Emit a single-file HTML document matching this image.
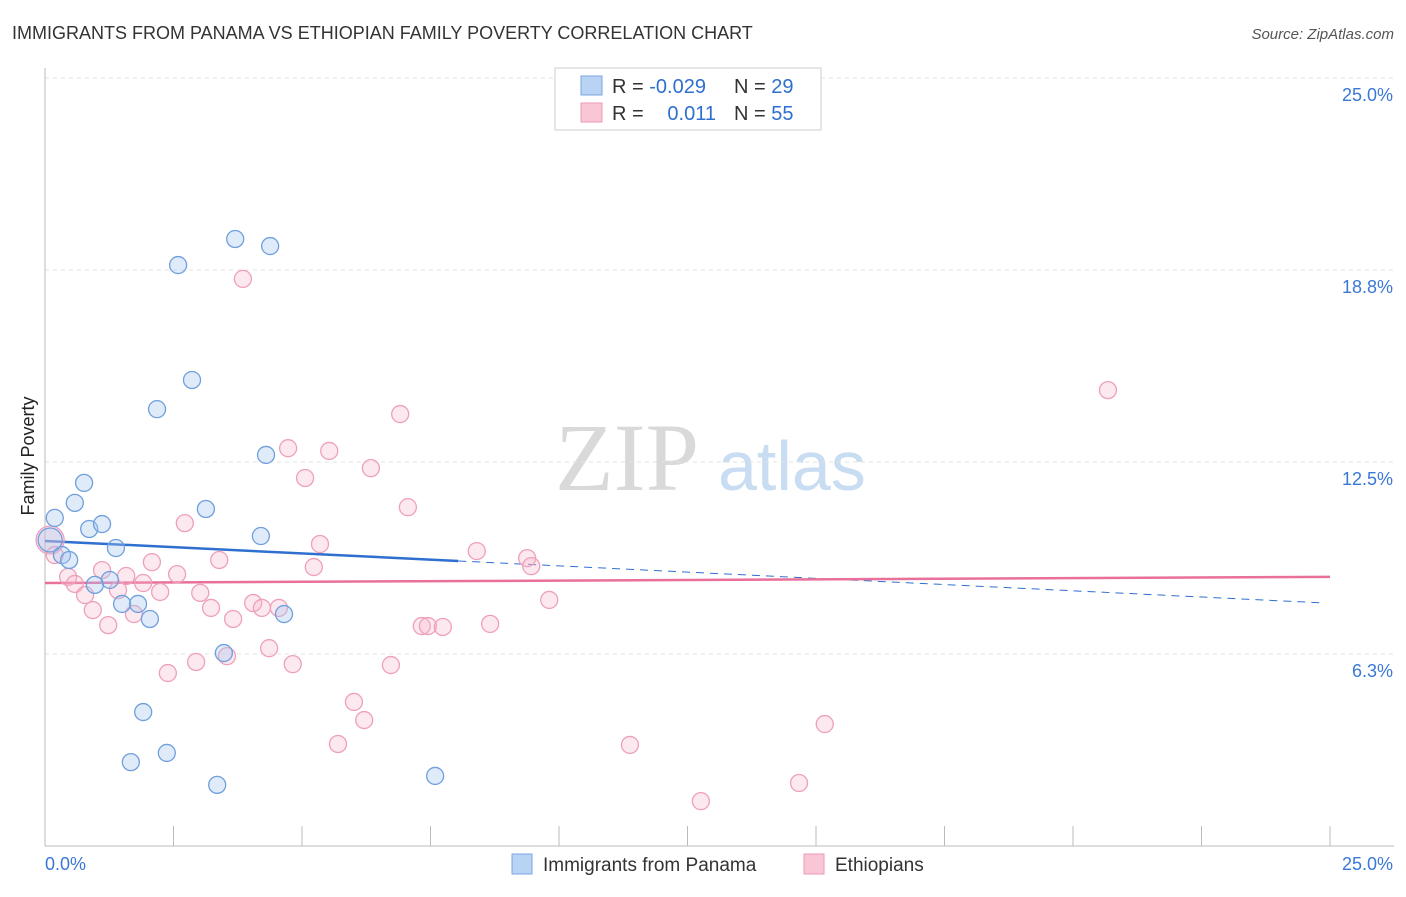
<!DOCTYPE html>
<html><head><meta charset="utf-8"><style>
body{margin:0;background:#fff;font-family:"Liberation Sans",sans-serif;}
svg text{font-family:"Liberation Sans",sans-serif;}
</style></head><body>
<svg id="chart" width="1406" height="892" xmlns="http://www.w3.org/2000/svg">
<text x="12" y="39" font-size="18" fill="#333">IMMIGRANTS FROM PANAMA VS ETHIOPIAN FAMILY POVERTY CORRELATION CHART</text>
<text x="1394" y="39" font-size="15" fill="#555" font-style="italic" text-anchor="end">Source: ZipAtlas.com</text>
<text x="34" y="456" font-size="18" fill="#222" text-anchor="middle" transform="rotate(-90 34 456)">Family Poverty</text>
<text x="555" y="490" font-size="96" fill="#d9d9d9" font-family="Liberation Serif" style="font-family:'Liberation Serif',serif">ZIP</text>
<text x="718" y="490" font-size="70" fill="#c8dcf2">atlas</text>
<g id="grid"></g><g id="axes"></g><g id="trend"></g><g id="pts"></g>
<g>
<rect x="555" y="68" width="266" height="62" fill="#fff" stroke="#ccc"/>
<rect x="581" y="76" width="21" height="19" fill="#b9d3f5" stroke="#7aa6e0"/>
<rect x="581" y="103" width="21" height="19" fill="#f9c6d5" stroke="#ee9ab5"/>
<text x="612" y="93" font-size="20" fill="#333">R = <tspan fill="#2f6fd0">-0.029</tspan></text>
<text x="734" y="93" font-size="20" fill="#333">N = <tspan fill="#2f6fd0">29</tspan></text>
<text x="612" y="120" font-size="20" fill="#333">R = </text>
<text x="716" y="120" font-size="20" fill="#2f6fd0" text-anchor="end">0.011</text>
<text x="734" y="120" font-size="20" fill="#333">N = <tspan fill="#2f6fd0">55</tspan></text>
</g>
<g>
<rect x="512" y="854" width="20" height="20" fill="#b9d3f5" stroke="#7aa6e0"/>
<text x="543" y="871" font-size="19" fill="#333">Immigrants from Panama</text>
<rect x="804" y="854" width="20" height="20" fill="#f9c6d5" stroke="#ee9ab5"/>
<text x="835" y="871" font-size="19" fill="#333">Ethiopians</text>
</g>
</svg>
<script>
const xTicks=[0,2.5,5,7.5,10,12.5,15,17.5,20,22.5,25];
const yTicks=[6.25,12.5,18.75,25];
const yTickLabels=["6.3%","12.5%","18.8%","25.0%"];
const blueX=[0.19,0.58,0.76,0.33,0.47,0.86,1.11,1.38,1.26,0.97,1.50,1.81,2.04,2.18,2.86,2.59,3.70,4.38,3.13,4.30,4.20,4.65,3.48,1.91,2.37,1.67,3.35,7.59,0.10];
const blueY=[10.68,11.17,11.82,9.47,9.31,10.32,10.48,9.70,8.66,8.50,7.88,7.88,7.39,14.22,15.17,18.91,19.76,19.53,10.97,12.73,10.09,7.55,6.28,4.36,3.03,2.73,1.99,2.28,9.96];
const pinkX=[0.10,0.19,0.45,0.58,0.78,0.93,1.11,1.23,1.42,1.58,1.73,1.91,2.08,2.24,2.39,2.57,2.72,2.94,3.02,3.23,3.39,3.54,3.66,3.85,4.05,4.22,4.36,4.55,4.73,4.82,5.06,5.23,5.35,5.53,5.70,6.01,6.21,6.34,6.73,6.91,7.06,7.33,7.45,7.74,8.40,8.66,9.38,9.46,9.81,11.38,11.69,12.76,14.67,15.17,20.68];
const pinkY=[9.96,9.47,8.76,8.53,8.17,7.68,8.98,7.19,8.33,8.79,7.55,8.56,9.24,8.27,5.63,8.85,10.51,5.99,8.24,7.75,9.31,6.18,7.39,18.46,7.91,7.75,6.44,7.75,12.95,5.92,11.98,9.08,9.83,12.86,3.32,4.69,4.10,12.30,5.89,14.06,11.03,7.16,7.16,7.13,9.60,7.23,9.37,9.11,8.01,3.29,24.80,1.46,2.05,3.97,14.84];
const blueTrend=[9.93,7.91], blueSolidEnd=8.04;
const pinkTrend=[8.56,8.76];
const NS="http://www.w3.org/2000/svg";
const X=v=>45+v/25*1285, Y=v=>846-v/6.25*192;
function mk(p,t,a){const e=document.createElementNS(NS,t);for(const k in a)e.setAttribute(k,a[k]);document.getElementById(p).appendChild(e);return e;}
yTicks.forEach((t,i)=>{const g=mk('grid','line',{x1:45,x2:1394,y1:Y(t),y2:Y(t),stroke:'#e3e3e3','stroke-dasharray':'4,4'});


const l=mk('grid','text',{x:1393,y:Y(t)+23,'font-size':18,fill:'#3a78d6','text-anchor':'end'});l.textContent=yTickLabels[i];

});
const ax=mk('axes','line',{x1:45,x2:45,y1:68,y2:846,stroke:'#bbb'});


const bx=mk('axes','line',{x1:45,x2:1394,y1:846,y2:846,stroke:'#bbb'});


xTicks.forEach(t=>{const e=mk('axes','line',{x1:X(t),x2:X(t),y1:826,y2:846,stroke:'#bbb'});

});
[["0.0%",45,'start'],["25.0%",1393,'end']].forEach(a=>{const e=mk('axes','text',{x:a[1],y:870,'font-size':18,fill:'#3a78d6','text-anchor':a[2]});e.textContent=a[0];

});
const by=x=>blueTrend[0]+(blueTrend[1]-blueTrend[0])*x/24.9;
let e=mk('trend','line',{x1:X(0),y1:Y(by(0)),x2:X(blueSolidEnd),y2:Y(by(blueSolidEnd)),stroke:'#2f6fd0','stroke-width':2.5});


e=mk('trend','line',{x1:X(blueSolidEnd),y1:Y(by(blueSolidEnd)),x2:X(24.9),y2:Y(by(24.9)),stroke:'#2f6fd0','stroke-width':1,'stroke-dasharray':'8,6'});


e=mk('trend','line',{x1:X(0),y1:Y(pinkTrend[0]),x2:X(25),y2:Y(pinkTrend[1]),stroke:'#e8709a','stroke-width':2.5});


pinkX.forEach((x,i)=>{const c=mk('pts','circle',{cx:X(x),cy:Y(pinkY[i]),r:i==0?14:8.5,fill:'rgba(246,180,202,0.3)',stroke:'#eea0ba','stroke-width':1.3});

});
blueX.forEach((x,i)=>{const c=mk('pts','circle',{cx:X(x),cy:Y(blueY[i]),r:i==28?12:8.5,fill:'rgba(165,198,240,0.35)',stroke:'#6f9fdc','stroke-width':1.3});

});
</script>
</body></html>
